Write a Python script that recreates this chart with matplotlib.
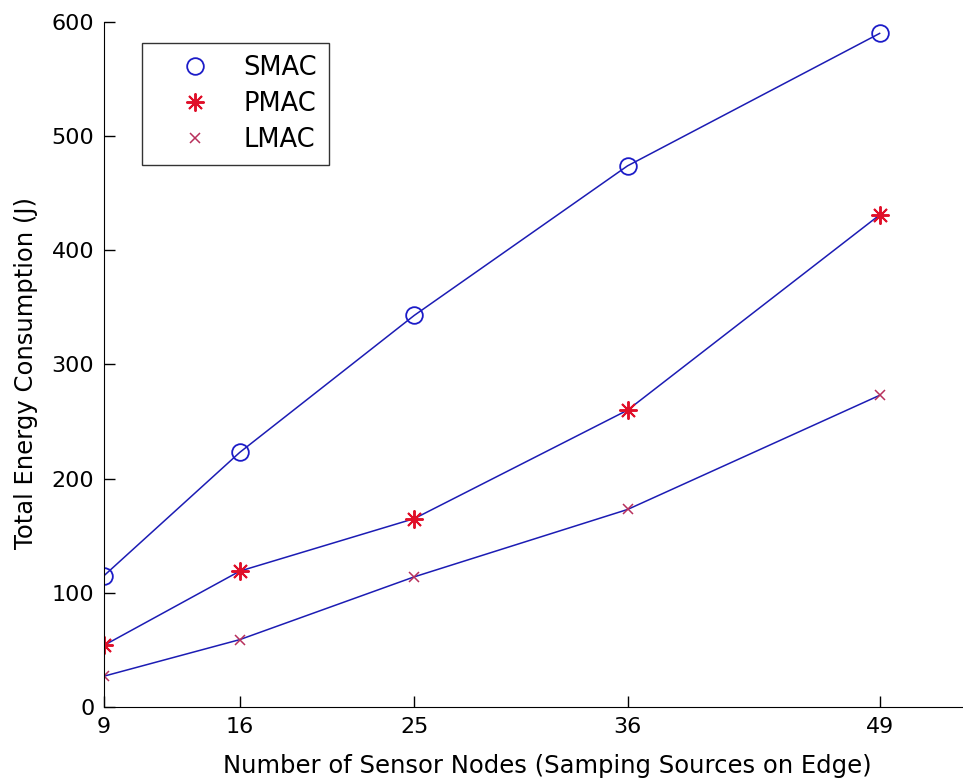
import matplotlib.pyplot as plt
from matplotlib.lines import Line2D
import numpy as np

plt.rcParams['font.family'] = ['DejaVu Sans']

nodes = [9, 16, 25, 36, 49]
smac = [115, 223, 343, 474, 590]
pmac = [54, 119, 165, 260, 431]
lmac = [27, 59, 114, 173, 273]

line_color = '#1c1cb4'
circ = dict(marker='o', mfc='none', mec='#1c1cc8', ms=12, mew=1.3, ls='none')
star = dict(marker=(8, 2, 0), color='#e0102a', ms=13, mew=1.4, ls='none')
cross = dict(marker='x', color='#b8305c', ms=7, mew=1.1, ls='none')

fig = plt.figure(figsize=(9.63, 7.8), dpi=100)
ax = fig.add_axes([0.108, 0.0936, 0.892, 0.8782])

# lines first, markers on top
ax.plot(nodes, smac, '-', color=line_color, lw=1.1)
ax.plot(nodes, smac, **circ)
ax.plot(nodes, pmac, '-', color=line_color, lw=1.1)
ax.plot(nodes, pmac, **star)
ax.plot(nodes, lmac, '-', color=line_color, lw=1.1)
ax.plot(nodes, lmac, **cross)

ax.set_xlim(9, 53.3)
ax.set_ylim(0, 600)
ax.set_xticks(nodes)
ax.set_yticks(np.arange(0, 601, 100))
ax.spines['top'].set_visible(False)
ax.spines['right'].set_visible(False)
ax.tick_params(direction='in', length=8, width=1, labelsize=16, pad=7)
ax.set_xlabel('Number of Sensor Nodes (Samping Sources on Edge)', fontsize=17.5)
ax.xaxis.set_label_coords(0.516, -0.068)
ax.set_ylabel('Total Energy Consumption (J)', fontsize=17.5)
ax.yaxis.set_label_coords(-0.077, 0.488)

handles = [Line2D([], [], **circ), Line2D([], [], **star), Line2D([], [], **cross)]
leg = ax.legend(handles, ['SMAC', 'PMAC', 'LMAC'], loc='upper left',
                bbox_to_anchor=(142 / 963, 1 - 43 / 780), bbox_transform=fig.transFigure,
                fontsize=18.5, frameon=True, fancybox=False, edgecolor='black',
                handlelength=3.2, handletextpad=0.3, labelspacing=0.4,
                borderpad=0.45, borderaxespad=0)
leg.get_frame().set_linewidth(1.0)

fig.savefig('out.png', dpi=100)
